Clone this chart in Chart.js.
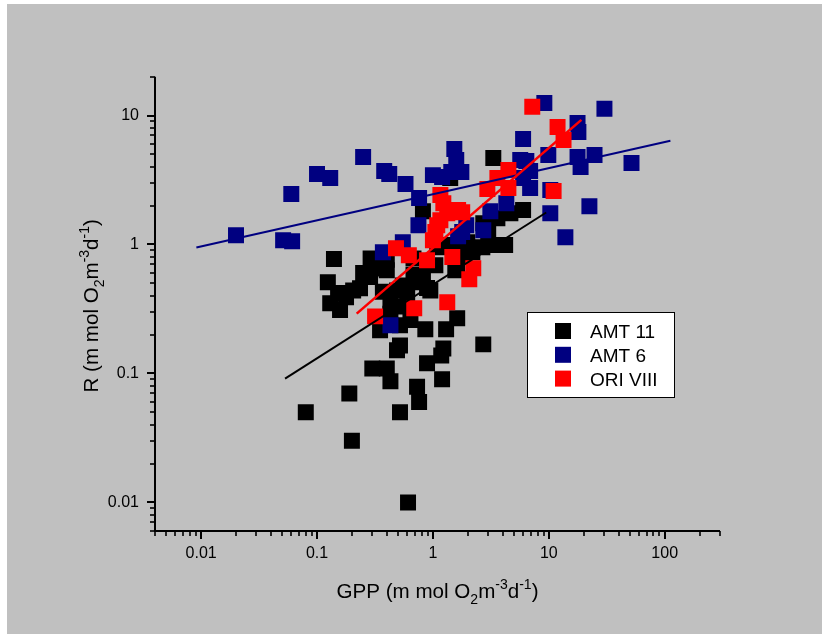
<!DOCTYPE html>
<html>
<head>
<meta charset="utf-8">
<title>GPP vs R</title>
<script src="https://cdn.jsdelivr.net/npm/chart.js@4.4.1/dist/chart.umd.min.js"></script>
<style>
  html, body { margin: 0; padding: 0; background: #fff; }
  canvas { display: block; }
</style>
</head>
<body>
<canvas id="myChart" width="822" height="634"></canvas>
<script>
// GPP (x) and R (y) for each cruise, m mol O2 m-3 d-1
const amt11Gpp = [0.080, 0.19, 0.20, 0.61, 0.52, 0.43, 0.30, 0.40, 0.73, 0.76, 1.20, 0.89, 1.23, 1.18, 0.86, 1.30, 1.62, 2.72,
  0.52, 0.49, 0.35, 0.52, 0.14, 0.124, 0.152, 0.235, 0.13, 0.158, 0.29, 0.305, 0.287, 0.37, 0.43, 0.49, 0.55, 0.52,
  0.68, 0.82, 0.89, 0.73, 0.95, 3.32, 0.82, 1.41, 6.0, 4.66, 3.6, 2.72, 3.0, 4.2, 3.3, 2.67, 1.98, 2.19, 1.33, 1.72,
  1.83, 1.56, 1.09, 1.05, 1.62, 0.78, 0.60, 0.40, 0.25, 0.205, 0.178, 0.35, 0.40, 0.68, 0.64, 0.43];
const amt11R = [0.050, 0.070, 0.030, 0.010, 0.050, 0.087, 0.109, 0.109, 0.079, 0.060, 0.090, 0.120, 0.156, 0.138, 0.22, 0.22, 0.268, 0.168,
  0.165, 0.151, 0.216, 0.236, 0.77, 0.51, 0.42, 0.457, 0.35, 0.31, 0.78, 0.65, 0.56, 0.43, 0.36, 0.44, 0.48, 0.33,
  0.78, 0.58, 0.46, 0.51, 0.44, 4.68, 1.81, 3.28, 1.85, 1.75, 1.60, 1.46, 1.22, 0.99, 0.99, 0.95, 1.04, 0.87, 0.99, 1.02,
  0.83, 0.63, 0.95, 0.69, 0.65, 0.56, 0.42, 0.76, 0.60, 0.44, 0.39, 0.70, 0.63, 0.58, 0.26, 0.29];

const amt6Gpp = [0.020, 0.051, 0.061, 0.060, 0.100, 0.130, 0.25, 0.38, 0.42, 0.58, 0.76, 0.75, 0.55, 0.37, 0.43, 1.0,
  1.20, 1.53, 1.59, 1.76, 1.44, 1.94, 1.79, 3.13, 4.3, 2.72, 5.67, 6.4, 6.9, 6.0, 6.9, 6.0, 9.15, 30.2, 17.7, 18.0,
  9.9, 17.7, 18.8, 24.8, 51.7, 10.3, 22.4, 10.3, 13.9, 1.65];
const amt6R = [1.18, 1.08, 1.06, 2.46, 3.52, 3.28, 4.77, 3.71, 3.52, 2.94, 2.29, 1.41, 1.04, 0.87, 0.236, 3.45,
  3.33, 5.5, 4.52, 3.65, 3.65, 1.41, 1.25, 1.81, 2.09, 1.29, 4.52, 4.44, 3.71, 3.28, 2.74, 6.58, 12.5, 11.3, 8.75, 7.45,
  4.94, 4.77, 3.99, 4.94, 4.28, 2.64, 1.98, 1.75, 1.14, 1.16];

const ori8Gpp = [0.317, 0.69, 1.33, 0.48, 0.62, 0.89, 1.47, 2.23, 2.06, 1.0, 1.05, 1.16, 1.33, 1.65, 1.23, 1.16, 1.79,
  2.95, 3.6, 4.48, 4.48, 7.2, 11.9, 13.4, 11.0, 1.09];
const ori8R = [0.277, 0.32, 0.356, 0.935, 0.826, 0.755, 0.80, 0.654, 0.537, 1.08, 1.25, 1.54, 1.75, 1.85, 2.09, 2.42, 1.78,
  2.69, 3.28, 3.78, 2.74, 11.7, 8.15, 6.46, 2.6, 1.41];

// end points of the log-log regression lines
const amt11FitGpp = [0.053, 9.5];
const amt11FitR = [0.091, 1.77];
const amt6FitGpp = [0.0091, 112];
const amt6FitR = [0.948, 6.38];
const ori8FitGpp = [0.22, 19.1];
const ori8FitR = [0.291, 9.25];

const seriesNames = ['AMT 11', 'AMT 6', 'ORI VIII'];
const seriesColors = ['#000000', '#000080', '#ff0000'];
const fitWidths = [2, 2, 2.6];

const xTickLabels = [0.01, 0.1, 1, 10, 100];
const yTickLabels = [0.01, 0.1, 1, 10];

const FONT = 'Liberation Sans, Arial, sans-serif';

function pairs(xs, ys) {
  return xs.map((x, i) => ({ x: x, y: ys[i] }));
}

function sameValue(a, b) {
  return Math.abs(Math.log10(a) - Math.log10(b)) < 1e-6;
}

function mantissa(v) {
  return v / Math.pow(10, Math.floor(Math.log10(v) + 1e-9));
}

function labelFor(list) {
  return function (v) {
    const hit = list.find(l => sameValue(l, v));
    return hit === undefined ? '' : String(hit);
  };
}

function scatterSet(i, xs, ys, order) {
  return {
    label: seriesNames[i],
    data: pairs(xs, ys),
    pointStyle: 'rect',
    pointRadius: 11.3,
    pointBorderWidth: 0,
    backgroundColor: seriesColors[i],
    borderColor: seriesColors[i],
    order: order
  };
}

function fitSet(i, xs, ys, order) {
  return {
    label: seriesNames[i] + ' fit',
    data: pairs(xs, ys),
    showLine: true,
    pointRadius: 0,
    borderWidth: fitWidths[i],
    borderColor: seriesColors[i],
    fill: false,
    order: order
  };
}

// text runs with sub/superscripts, e.g. O2 m-3 d-1
const unitParts = [
  { t: ' (m mol O', s: 0 },
  { t: '2', s: -1 },
  { t: 'm', s: 0 },
  { t: '-3', s: 1 },
  { t: 'd', s: 0 },
  { t: '-1', s: 1 },
  { t: ')', s: 0 }
];

function drawRich(c, parts, size) {
  const small = Math.round(size * 0.68);
  const fontOf = p => (p.s === 0 ? size : small) + 'px ' + FONT;
  let w = 0;
  parts.forEach(p => { c.font = fontOf(p); w += c.measureText(p.t).width; });
  let x = -w / 2;
  parts.forEach(p => {
    c.font = fontOf(p);
    const dy = p.s === 0 ? 0 : (p.s > 0 ? -size * 0.42 : size * 0.3);
    c.fillText(p.t, x, dy);
    x += c.measureText(p.t).width;
  });
}

const axesPlugin = {
  id: 'axesPlugin',
  beforeDraw(chart) {
    const c = chart.ctx;
    c.save();
    c.fillStyle = '#ffffff';
    c.fillRect(0, 0, chart.width, chart.height);
    c.fillStyle = '#c0c0c0';
    c.fillRect(7, 4, chart.width - 7, chart.height - 4);
    c.restore();
  },
  beforeDatasetsDraw(chart) {
    const c = chart.ctx;
    const a = chart.chartArea;
    const xs = chart.scales.x;
    const ys = chart.scales.y;
    c.save();
    c.strokeStyle = '#000';
    c.lineCap = 'butt';
    c.lineWidth = 2;
    c.beginPath();
    c.moveTo(a.left, a.top);
    c.lineTo(a.left, a.bottom + 1);
    c.moveTo(a.left - 1, a.bottom);
    c.lineTo(a.right, a.bottom);
    c.stroke();

    xs.ticks.forEach(t => {
      const m = mantissa(t.value);
      if (Math.abs(m - Math.round(m)) > 1e-6) return;
      const major = Math.round(m) === 1 || Math.round(m) === 10;
      const px = Math.round(xs.getPixelForValue(t.value));
      c.lineWidth = major ? 2 : 1.6;
      c.beginPath();
      c.moveTo(px, a.bottom);
      c.lineTo(px, a.bottom + (major ? 8 : 5));
      c.stroke();
    });
    ys.ticks.forEach(t => {
      const m = mantissa(t.value);
      if (Math.abs(m - Math.round(m)) > 1e-6) return;
      const major = Math.round(m) === 1 || Math.round(m) === 10;
      const py = Math.round(ys.getPixelForValue(t.value));
      c.lineWidth = major ? 2 : 1.6;
      c.beginPath();
      c.moveTo(a.left, py);
      c.lineTo(a.left - (major ? 8 : 5), py);
      c.stroke();
    });
    c.restore();
  },
  afterDraw(chart) {
    const c = chart.ctx;
    const a = chart.chartArea;
    c.save();
    c.fillStyle = '#000';
    c.textBaseline = 'alphabetic';

    // x title
    c.save();
    c.translate((a.left + a.right) / 2, 598);
    drawRich(c, [{ t: 'GPP', s: 0 }].concat(unitParts), 20.6);
    c.restore();

    // y title
    c.save();
    c.translate(98, (a.top + a.bottom) / 2 + 2);
    c.rotate(-Math.PI / 2);
    drawRich(c, [{ t: 'R', s: 0 }].concat(unitParts), 20.6);
    c.restore();

    // legend box
    const bx = 527, by = 312, bw = 147, bh = 85;
    c.fillStyle = '#ffffff';
    c.fillRect(bx, by, bw, bh);
    c.strokeStyle = '#000';
    c.lineWidth = 1;
    c.strokeRect(bx + 0.5, by + 0.5, bw, bh);
    const sets = chart.data.datasets.filter(d => !d.showLine);
    sets.sort((p, q) => seriesNames.indexOf(p.label) - seriesNames.indexOf(q.label));
    c.font = '19px ' + FONT;
    sets.forEach((d, i) => {
      const cy = 331 + i * 23.8;
      c.fillStyle = d.backgroundColor;
      c.fillRect(555, cy - 8, 16, 16);
      c.fillStyle = '#000';
      c.fillText(d.label, 590, cy + 7);
    });
    c.restore();
  }
};

const tickFont = { family: FONT, size: 16 };

new Chart(document.getElementById('myChart'), {
  type: 'scatter',
  data: {
    datasets: [
      scatterSet(0, amt11Gpp, amt11R, 6),
      scatterSet(1, amt6Gpp, amt6R, 5),
      scatterSet(2, ori8Gpp, ori8R, 4),
      fitSet(0, amt11FitGpp, amt11FitR, 3),
      fitSet(1, amt6FitGpp, amt6FitR, 2),
      fitSet(2, ori8FitGpp, ori8FitR, 1)
    ]
  },
  options: {
    responsive: false,
    animation: false,
    events: [],
    layout: { padding: { left: 0, top: 76.7, right: 102, bottom: 0 } },
    plugins: {
      legend: { display: false },
      tooltip: { enabled: false },
      title: { display: false }
    },
    scales: {
      x: {
        type: 'logarithmic',
        min: 0.004,
        max: 300,
        border: { display: false },
        grid: { display: true, drawOnChartArea: false, drawTicks: true, tickLength: 8, tickColor: 'rgba(0,0,0,0)' },
        ticks: { autoSkip: false, maxRotation: 0, minRotation: 0, padding: 5, color: '#000', font: tickFont, callback: labelFor(xTickLabels) },
        afterFit: s => { s.height = 103; }
      },
      y: {
        type: 'logarithmic',
        min: 0.006,
        max: 20,
        border: { display: false },
        grid: { display: true, drawOnChartArea: false, drawTicks: true, tickLength: 8, tickColor: 'rgba(0,0,0,0)' },
        ticks: { autoSkip: false, padding: 8, color: '#000', font: tickFont, callback: labelFor(yTickLabels) },
        afterFit: s => { s.width = 155; }
      }
    }
  },
  plugins: [axesPlugin]
});
</script>
</body>
</html>
